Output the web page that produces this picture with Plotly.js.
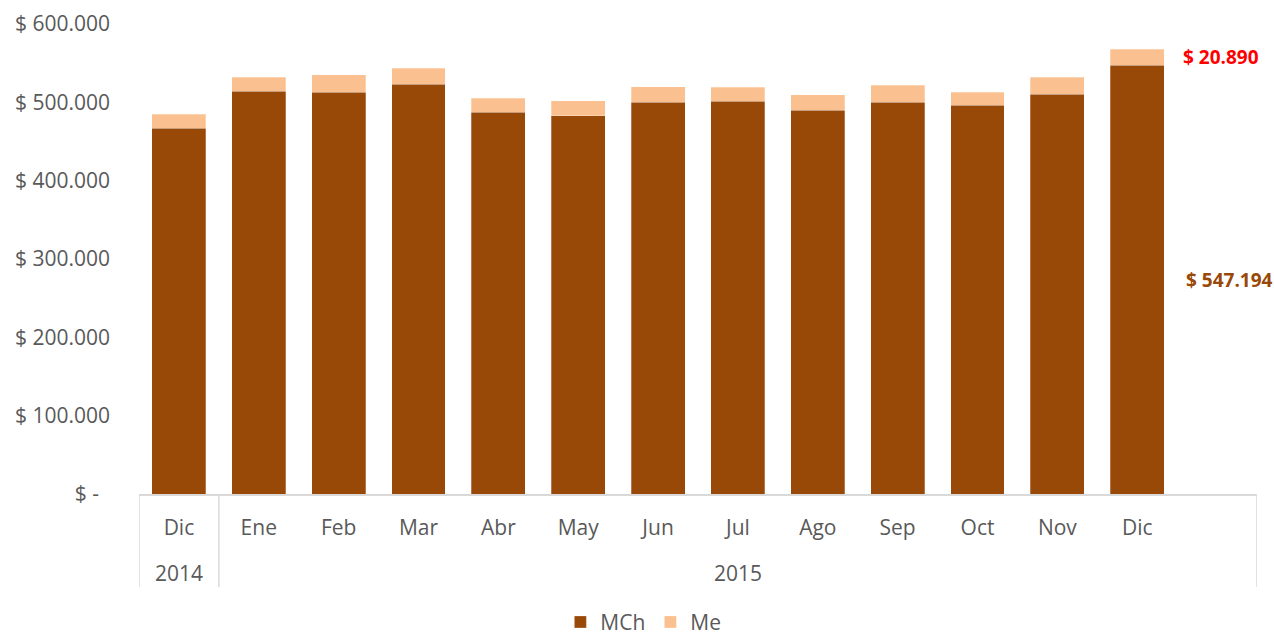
<!DOCTYPE html>
<html>
<head>
<meta charset="utf-8">
<script src="https://cdn.plot.ly/plotly-3.0.1.min.js"></script>
<style>html,body{margin:0;padding:0;background:#fff;}#chart{width:1274px;height:635px;}</style>
</head>
<body>
<div id="chart"></div>
<script>
const months = ["Dic","Ene","Feb","Mar","Abr","May","Jun","Jul","Ago","Sep","Oct","Nov","Dic"];
const years  = ["2014","2015","2015","2015","2015","2015","2015","2015","2015","2015","2015","2015","2015"];
const mch = [467100,514000,513100,522900,487200,483000,500300,501600,490100,499900,496500,510200,547194];
const me  = [17500,18300,22200,20500,17900,19100,19700,17900,19700,22100,16200,21700,20890];
const yTickVals = [0,100000,200000,300000,400000,500000,600000];
const yTickText = ["$ -\u00a0\u00a0","$ 100.000","$ 200.000","$ 300.000","$ 400.000","$ 500.000","$ 600.000"];

const MCH_COLOR = "#984807", ME_COLOR = "#FAC090", GRID = "#D9D9D9", TXT = "#595959";
const FONT = "Open Sans, Calibri, sans-serif";

const keys = months.map((m,i)=>m+" "+years[i]);
const nSlots = months.length + 1; // one empty slot at the end
const xMax = nSlots - 0.5;

function fmt(v){ return "$ " + Math.round(v).toString().replace(/\B(?=(\d{3})+(?!\d))/g, "."); }

const traces = [
  {type:"bar", name:"MCh", x:keys, y:mch, marker:{color:MCH_COLOR, line:{color:"rgba(255,255,255,0.45)", width:0.6}}, hoverinfo:"y"},
  {type:"bar", name:"Me",  x:keys, y:me,  marker:{color:ME_COLOR,  line:{color:"rgba(255,255,255,0.45)", width:0.6}}, hoverinfo:"y"}
];

// year groups
const groups = [];
years.forEach((y,i)=>{
  if(!groups.length || groups[groups.length-1].year!==y) groups.push({year:y, start:i-0.5, end:i+0.5});
  else groups[groups.length-1].end = i+0.5;
});
groups[groups.length-1].end = xMax;

const divTop = 0, divBottom = -0.198;
const shapes = [];
const bounds = new Set();
groups.forEach(g=>{bounds.add(g.start); bounds.add(g.end);});
bounds.forEach(b=>shapes.push({type:"line", xref:"x", yref:"paper", x0:b, x1:b, y0:divTop, y1:divBottom, line:{color:GRID, width:1.5}}));

const annotations = groups.map(g=>({xref:"x", yref:"paper", x:(g.start+g.end)/2, y:-0.168, yanchor:"middle", xanchor:"center",
  text:g.year, showarrow:false, font:{family:FONT, size:21, color:TXT}}));

const last = months.length-1;
annotations.push({xref:"x", yref:"y", x:last, y:mch[last]+me[last]/2, xanchor:"left", xshift:44, yanchor:"middle",
  text:"<b>"+fmt(me[last])+"</b>", showarrow:false, font:{family:FONT, size:19, color:"#FF0000"}});
annotations.push({xref:"x", yref:"y", x:last, y:mch[last]/2, xanchor:"left", xshift:47, yanchor:"middle",
  text:"<b>"+fmt(mch[last])+"</b>", showarrow:false, font:{family:FONT, size:19, color:MCH_COLOR}});

const layout = {
  width:1274, height:635,
  margin:{l:139, r:17, t:24, b:141, autoexpand:false},
  paper_bgcolor:"#fff", plot_bgcolor:"#fff",
  barmode:"stack", bargap:0.324,
  showlegend:true,
  legend:{orientation:"h", xref:"container", yref:"container", x:0.505, xanchor:"center", y:0.02, yanchor:"middle",
    font:{family:FONT, size:21, color:TXT}, itemwidth:30, traceorder:"normal"},
  xaxis:{type:"category", categoryorder:"array", categoryarray:keys, range:[-0.5, xMax], tickvals:keys, ticktext:months,
    showgrid:false, zeroline:false, showline:true, linecolor:GRID, linewidth:1.5, ticks:"", ticklabelstandoff:14,
    tickfont:{family:FONT, size:21, color:TXT}, fixedrange:true, automargin:false},
  yaxis:{range:[0,600000], tickvals:yTickVals, ticktext:yTickText, showgrid:false, zeroline:false, showline:false, ticks:"",
    ticklabelstandoff:28, tickfont:{family:FONT, size:21, color:TXT}, fixedrange:true, automargin:false},
  shapes:shapes, annotations:annotations,
  font:{family:FONT, color:TXT}
};

Plotly.newPlot("chart", traces, layout, {displayModeBar:false, staticPlot:true});
</script>
</body>
</html>
